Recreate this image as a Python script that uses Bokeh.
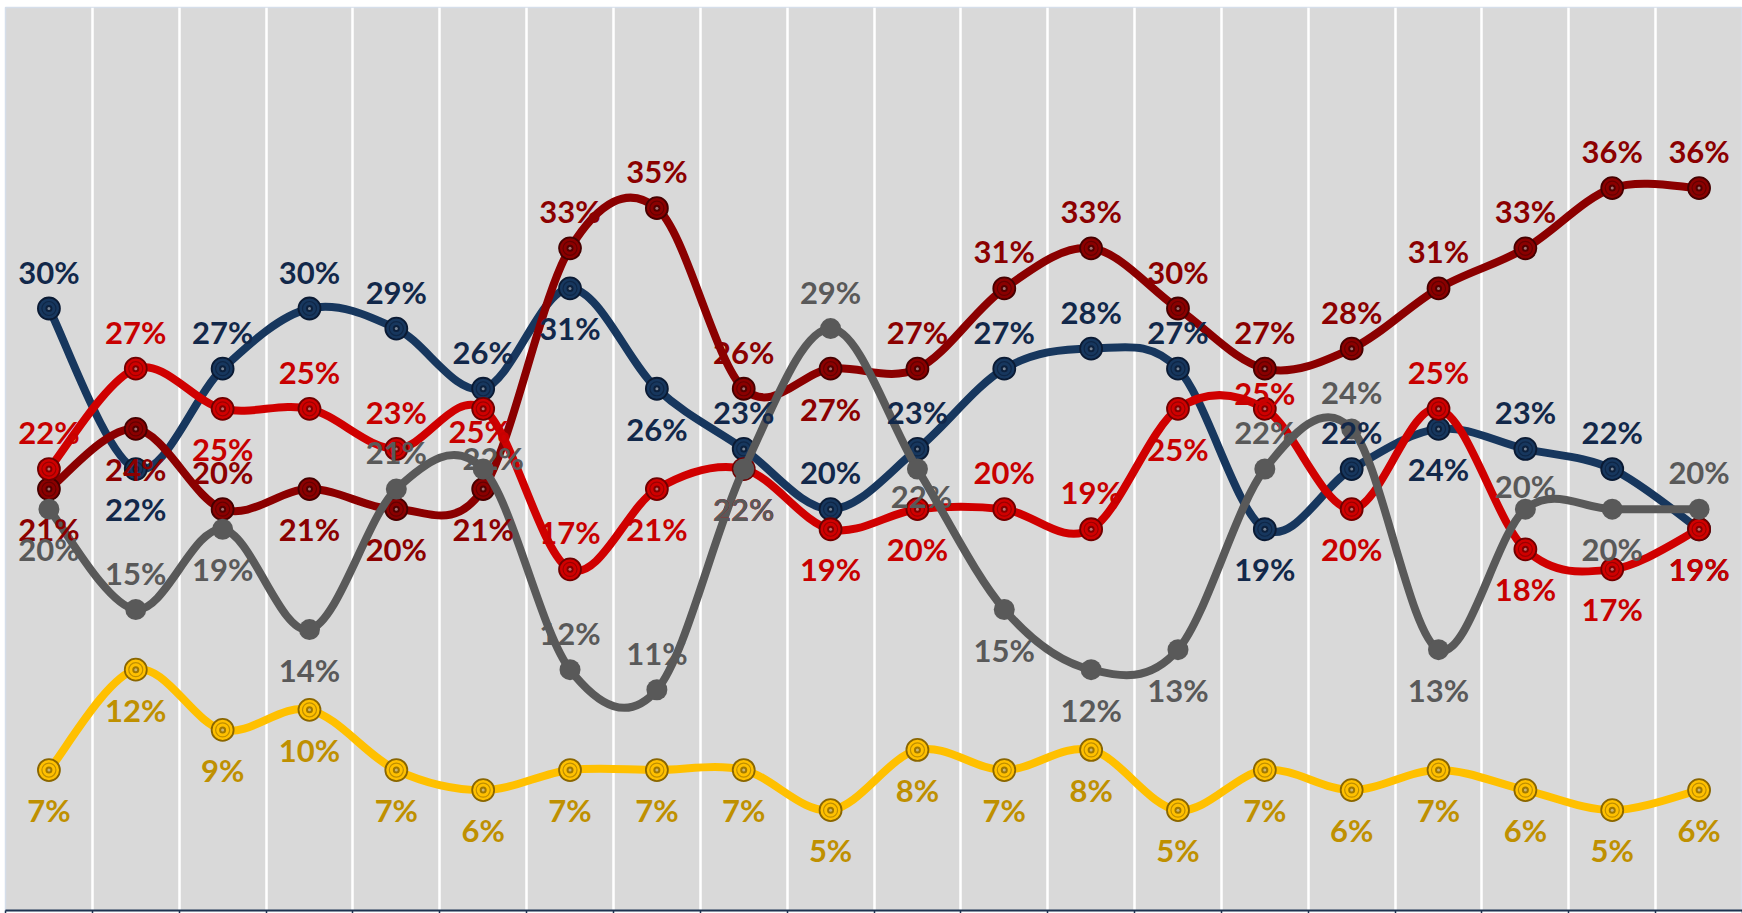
from bokeh.plotting import figure
from bokeh.models import ColumnDataSource, FixedTicker, Range1d
from bokeh.core.properties import value
from bokeh.embed import file_html
from bokeh.resources import INLINE

# ---------------- data ----------------
periods = list(range(1, 21))
navy_vals = [30, 22, 27, 30, 29, 26, 31, 26, 23, 20, 23, 27, 28, 27, 19, 22, 24, 23, 22, 19]
darkred_vals = [21, 24, 20, 21, 20, 21, 33, 35, 26, 27, 27, 31, 33, 30, 27, 28, 31, 33, 36, 36]
red_vals = [22, 27, 25, 25, 23, 25, 17, 21, 22, 19, 20, 20, 19, 25, 25, 20, 25, 18, 17, 19]
gray_vals = [20, 15, 19, 14, 21, 22, 12, 11, 22, 29, 22, 15, 12, 13, 22, 24, 13, 20, 20, 20]
gold_vals = [7, 12, 9, 10, 7, 6, 7, 7, 7, 5, 8, 7, 8, 5, 7, 6, 7, 6, 5, 6]

# ---------------- label placement (a = above, b = below) ----------------
navy_pos = "abaaaabbaaaaaababaab"
darkred_pos = "bbabbbaaabaaaaaaaaaa"
red_pos = "aabaababbbbaabababbb"
gray_pos = "babbaaaababbbbaababa"
gold_pos = "b" * 20
ABOVE, BELOW = -37, 40
custom = {("gray", 5): (10, -11), ("gray", 10): (4, 27), ("red", 5): (-4, 22),
          ("red", 14): (0, -16), ("gray", 17): (0, -23)}

series = [
    # name, values, placement, line colour, label colour, marker dark, flat marker
    ("navy", navy_vals, navy_pos, "#17375E", "#12284A", "#0A1A33", False),
    ("darkred", darkred_vals, darkred_pos, "#8B0000", "#8B0000", "#450000", False),
    ("red", red_vals, red_pos, "#D00000", "#C80000", "#700000", False),
    ("gray", gray_vals, gray_pos, "#595959", "#595959", "#595959", True),
    ("gold", gold_vals, gold_pos, "#FFC000", "#BF9000", "#8A6600", False),
]

W, H = 1742, 913
p = figure(width=W, height=H, output_backend="svg", toolbar_location=None,
           x_range=Range1d(0.5, 20.5), y_range=Range1d(0, 45),
           min_border_left=5, min_border_right=0, min_border_top=7, min_border_bottom=0)
p.background_fill_color = "#D9D9D9"
p.border_fill_color = "white"
p.outline_line_color = "#D5DEEA"
p.outline_line_width = 1.5

bounds = [k + 0.5 for k in range(0, 21)]
p.xaxis.ticker = FixedTicker(ticks=bounds)
p.xaxis.major_label_overrides = {b: "" for b in bounds}
p.xaxis.major_label_standoff = 0
p.xaxis.axis_label_standoff = 0
p.xaxis.major_label_text_font_size = "0px"
p.xaxis.axis_line_color = "#1F3350"
p.xaxis.axis_line_width = 2
p.xaxis.major_tick_line_color = "#1F3350"
p.xaxis.major_tick_line_width = 1.5
p.xaxis.major_tick_out = 3
p.xaxis.major_tick_in = 0
p.xaxis.minor_tick_line_color = None
p.yaxis.visible = False
p.ygrid.grid_line_color = None
p.xgrid.ticker = FixedTicker(ticks=bounds)
p.xgrid.grid_line_color = "white"
p.xgrid.grid_line_width = 2.5


def bezier_source(xs, ys):
    n = len(xs)
    d = dict(x0=[], y0=[], x1=[], y1=[], cx0=[], cy0=[], cx1=[], cy1=[])
    for i in range(n - 1):
        xm, ym = (xs[i - 1], ys[i - 1]) if i > 0 else (xs[i], ys[i])
        xp, yp = (xs[i + 2], ys[i + 2]) if i + 2 < n else (xs[i + 1], ys[i + 1])
        d["x0"].append(xs[i]); d["y0"].append(ys[i])
        d["x1"].append(xs[i + 1]); d["y1"].append(ys[i + 1])
        d["cx0"].append(xs[i] + (xs[i + 1] - xm) / 6.0)
        d["cy0"].append(ys[i] + (ys[i + 1] - ym) / 6.0)
        d["cx1"].append(xs[i + 1] - (xp - xs[i]) / 6.0)
        d["cy1"].append(ys[i + 1] - (yp - ys[i]) / 6.0)
    return ColumnDataSource(d)


for name, vals, pos, lc, tc, dk, flat in series:
    p.bezier(x0="x0", y0="y0", x1="x1", y1="y1", cx0="cx0", cy0="cy0", cx1="cx1", cy1="cy1",
             source=bezier_source(periods, vals), line_color=lc, line_width=8, line_cap="round")
    src = ColumnDataSource(dict(x=periods, y=vals))
    if flat:
        p.scatter("x", "y", source=src, marker="circle", size=21, fill_color=lc, line_color=None)
    else:
        p.scatter("x", "y", source=src, marker="circle", size=22, fill_color=lc,
                  line_color=dk, line_width=1.8)
        p.scatter("x", "y", source=src, marker="circle", size=14, fill_color=lc,
                  line_color=dk, line_alpha=0.55, line_width=1.2)
        p.scatter("x", "y", source=src, marker="circle", size=7, fill_color=dk,
                  line_color=None, fill_alpha=0.8)
        p.scatter("x", "y", source=src, marker="circle", size=3, fill_color="white",
                  line_color=None, fill_alpha=0.45)

for name, vals, pos, lc, tc, dk, flat in series:
    xo, yo = [], []
    for i, c in enumerate(pos):
        dx, dy = custom.get((name, i), (0, ABOVE if c == "a" else BELOW))
        xo.append(dx)
        yo.append(dy)
    src = ColumnDataSource(dict(x=periods, y=vals, t=[f"{v}%" for v in vals], xo=xo, yo=yo))
    p.text("x", "y", text="t", source=src, x_offset="xo", y_offset="yo",
           text_color=tc, text_font=value("Lato"), text_font_style="bold",
           text_font_size="31px", text_align="center", text_baseline="middle")

open("out.html", "w").write(file_html(p, INLINE))
